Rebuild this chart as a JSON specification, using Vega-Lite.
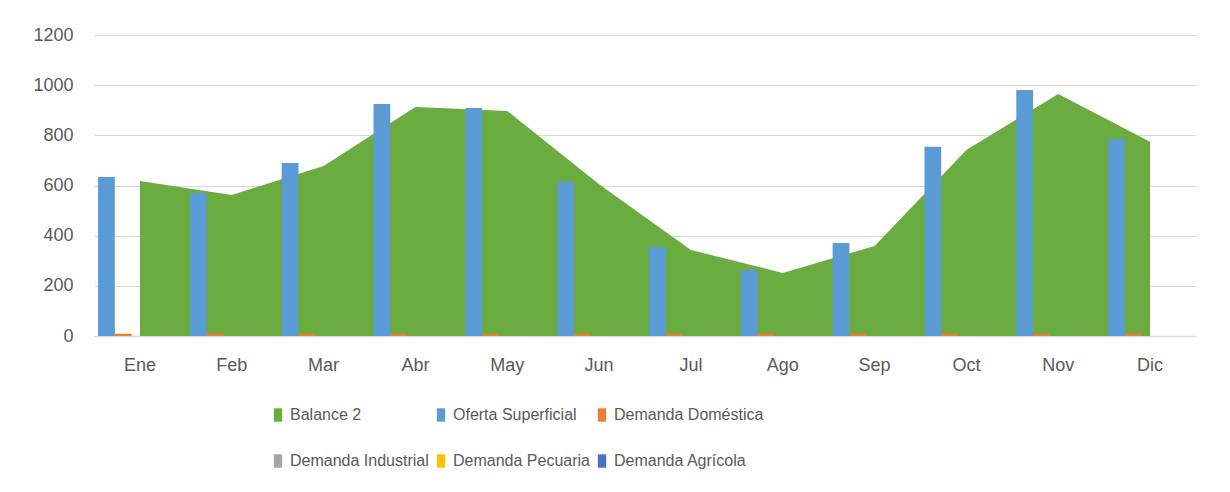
{
  "$schema": "https://vega.github.io/schema/vega-lite/v6.json",
  "autosize": {"type": "none"},
  "width": 1102,
  "height": 301,
  "padding": {"left": 94, "top": 35, "right": 34, "bottom": 156},
  "background": "white",
  "config": {
    "font": "Liberation Sans",
    "view": {"stroke": null},
    "axis": {"labelFont": "Liberation Sans", "labelColor": "#595959", "labelFontSize": 18, "ticks": false, "title": null},
    "legend": {"labelFont": "Liberation Sans", "labelColor": "#595959", "labelFontSize": 16}
  },
  "data": {
    "values": [
      {"mes": "Ene", "serie": "Balance 2", "valor": 618},
      {"mes": "Feb", "serie": "Balance 2", "valor": 562},
      {"mes": "Mar", "serie": "Balance 2", "valor": 678},
      {"mes": "Abr", "serie": "Balance 2", "valor": 913},
      {"mes": "May", "serie": "Balance 2", "valor": 897},
      {"mes": "Jun", "serie": "Balance 2", "valor": 605},
      {"mes": "Jul", "serie": "Balance 2", "valor": 343},
      {"mes": "Ago", "serie": "Balance 2", "valor": 251},
      {"mes": "Sep", "serie": "Balance 2", "valor": 359},
      {"mes": "Oct", "serie": "Balance 2", "valor": 742},
      {"mes": "Nov", "serie": "Balance 2", "valor": 965},
      {"mes": "Dic", "serie": "Balance 2", "valor": 774},
      {"mes": "Ene", "serie": "Oferta Superficial", "valor": 634},
      {"mes": "Feb", "serie": "Oferta Superficial", "valor": 570},
      {"mes": "Mar", "serie": "Oferta Superficial", "valor": 690},
      {"mes": "Abr", "serie": "Oferta Superficial", "valor": 925},
      {"mes": "May", "serie": "Oferta Superficial", "valor": 909},
      {"mes": "Jun", "serie": "Oferta Superficial", "valor": 614},
      {"mes": "Jul", "serie": "Oferta Superficial", "valor": 355},
      {"mes": "Ago", "serie": "Oferta Superficial", "valor": 263},
      {"mes": "Sep", "serie": "Oferta Superficial", "valor": 371},
      {"mes": "Oct", "serie": "Oferta Superficial", "valor": 754},
      {"mes": "Nov", "serie": "Oferta Superficial", "valor": 981},
      {"mes": "Dic", "serie": "Oferta Superficial", "valor": 785},
      {"mes": "Ene", "serie": "Demanda Doméstica", "valor": 9},
      {"mes": "Feb", "serie": "Demanda Doméstica", "valor": 9},
      {"mes": "Mar", "serie": "Demanda Doméstica", "valor": 9},
      {"mes": "Abr", "serie": "Demanda Doméstica", "valor": 9},
      {"mes": "May", "serie": "Demanda Doméstica", "valor": 9},
      {"mes": "Jun", "serie": "Demanda Doméstica", "valor": 9},
      {"mes": "Jul", "serie": "Demanda Doméstica", "valor": 9},
      {"mes": "Ago", "serie": "Demanda Doméstica", "valor": 9},
      {"mes": "Sep", "serie": "Demanda Doméstica", "valor": 9},
      {"mes": "Oct", "serie": "Demanda Doméstica", "valor": 9},
      {"mes": "Nov", "serie": "Demanda Doméstica", "valor": 9},
      {"mes": "Dic", "serie": "Demanda Doméstica", "valor": 9},
      {"mes": "Ene", "serie": "Demanda Industrial", "valor": 0},
      {"mes": "Feb", "serie": "Demanda Industrial", "valor": 0},
      {"mes": "Mar", "serie": "Demanda Industrial", "valor": 0},
      {"mes": "Abr", "serie": "Demanda Industrial", "valor": 0},
      {"mes": "May", "serie": "Demanda Industrial", "valor": 0},
      {"mes": "Jun", "serie": "Demanda Industrial", "valor": 0},
      {"mes": "Jul", "serie": "Demanda Industrial", "valor": 0},
      {"mes": "Ago", "serie": "Demanda Industrial", "valor": 0},
      {"mes": "Sep", "serie": "Demanda Industrial", "valor": 0},
      {"mes": "Oct", "serie": "Demanda Industrial", "valor": 0},
      {"mes": "Nov", "serie": "Demanda Industrial", "valor": 0},
      {"mes": "Dic", "serie": "Demanda Industrial", "valor": 0},
      {"mes": "Ene", "serie": "Demanda Pecuaria", "valor": 0},
      {"mes": "Feb", "serie": "Demanda Pecuaria", "valor": 0},
      {"mes": "Mar", "serie": "Demanda Pecuaria", "valor": 0},
      {"mes": "Abr", "serie": "Demanda Pecuaria", "valor": 0},
      {"mes": "May", "serie": "Demanda Pecuaria", "valor": 0},
      {"mes": "Jun", "serie": "Demanda Pecuaria", "valor": 0},
      {"mes": "Jul", "serie": "Demanda Pecuaria", "valor": 0},
      {"mes": "Ago", "serie": "Demanda Pecuaria", "valor": 0},
      {"mes": "Sep", "serie": "Demanda Pecuaria", "valor": 0},
      {"mes": "Oct", "serie": "Demanda Pecuaria", "valor": 0},
      {"mes": "Nov", "serie": "Demanda Pecuaria", "valor": 0},
      {"mes": "Dic", "serie": "Demanda Pecuaria", "valor": 0},
      {"mes": "Ene", "serie": "Demanda Agrícola", "valor": 0},
      {"mes": "Feb", "serie": "Demanda Agrícola", "valor": 0},
      {"mes": "Mar", "serie": "Demanda Agrícola", "valor": 0},
      {"mes": "Abr", "serie": "Demanda Agrícola", "valor": 0},
      {"mes": "May", "serie": "Demanda Agrícola", "valor": 0},
      {"mes": "Jun", "serie": "Demanda Agrícola", "valor": 0},
      {"mes": "Jul", "serie": "Demanda Agrícola", "valor": 0},
      {"mes": "Ago", "serie": "Demanda Agrícola", "valor": 0},
      {"mes": "Sep", "serie": "Demanda Agrícola", "valor": 0},
      {"mes": "Oct", "serie": "Demanda Agrícola", "valor": 0},
      {"mes": "Nov", "serie": "Demanda Agrícola", "valor": 0},
      {"mes": "Dic", "serie": "Demanda Agrícola", "valor": 0}
    ]
  },
  "encoding": {
    "x": {
      "field": "mes",
      "type": "nominal",
      "sort": ["Ene", "Feb", "Mar", "Abr", "May", "Jun", "Jul", "Ago", "Sep", "Oct", "Nov", "Dic"],
      "scale": {"paddingInner": 0.087, "paddingOuter": 0.044},
      "axis": {"labelAngle": 0, "labelPadding": 20, "domainColor": "#d9d9d9", "domainWidth": 1.5, "grid": false}
    },
    "y": {
      "field": "valor",
      "type": "quantitative",
      "scale": {"domain": [0, 1200], "nice": false},
      "axis": {"values": [0, 200, 400, 600, 800, 1000, 1200], "format": "d", "domain": false, "gridColor": "#d9d9d9", "gridWidth": 1.2, "labelPadding": 21}
    },
    "color": {
      "field": "serie",
      "type": "nominal",
      "scale": {
        "domain": ["Balance 2", "Oferta Superficial", "Demanda Doméstica", "Demanda Industrial", "Demanda Pecuaria", "Demanda Agrícola"],
        "range": ["#6aac40", "#5b9bd5", "#ed7d31", "#a5a5a5", "#ffc000", "#4472c4"]
      },
      "legend": {
        "title": null,
        "orient": "none",
        "direction": "horizontal",
        "columns": 3,
        "legendX": 176,
        "legendY": 372,
        "padding": 0,
        "symbolType": "M-0.62,-1H0.62V1H-0.62Z",
        "symbolSize": 180,
        "symbolStrokeWidth": 0,
        "labelOffset": 4,
        "rowPadding": 30,
        "columnPadding": 4,
        "labelLimit": 300
      }
    }
  },
  "layer": [
    {
      "transform": [{"filter": "datum.serie === 'Balance 2'"}],
      "mark": {"type": "area", "opacity": 1}
    },
    {
      "transform": [{"filter": "datum.serie !== 'Balance 2'"}],
      "mark": {"type": "bar"},
      "encoding": {
        "xOffset": {
          "field": "serie",
          "type": "nominal",
          "scale": {"domain": ["Oferta Superficial", "Demanda Doméstica", "Demanda Industrial", "Demanda Pecuaria", "Demanda Agrícola"], "paddingInner": 0, "paddingOuter": 0}
        }
      }
    }
  ]
}
